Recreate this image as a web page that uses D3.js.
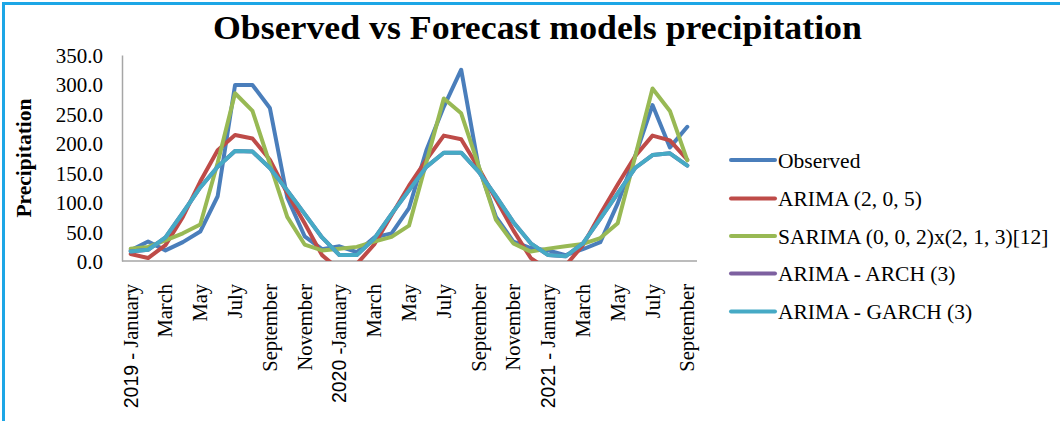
<!DOCTYPE html>
<html>
<head>
<meta charset="utf-8">
<script src="https://cdn.jsdelivr.net/npm/d3@7"></script>
<style>
  html, body { margin: 0; padding: 0; background: #ffffff; }
  svg { display: block; }
  text { font-family: "Liberation Serif", "Times New Roman", serif; fill: #000; }
</style>
</head>
<body>
<svg id="chart" width="1060" height="421"></svg>
<script>
// Monthly categories, January 2019 to September 2021
const months = [
  "2019 - January", "February", "March", "April", "May", "June", "July", "August", "September", "October", "November", "December",
  "2020 -January", "February", "March", "April", "May", "June", "July", "August", "September", "October", "November", "December",
  "2021 - January", "February", "March", "April", "May", "June", "July", "August", "September"
];

const seriesNames = [
  "Observed",
  "ARIMA (2, 0, 5)",
  "SARIMA (0, 0, 2)x(2, 1, 3)[12]",
  "ARIMA - ARCH (3)",
  "ARIMA - GARCH (3)"
];

const observed = [18, 33, 18, 32, 50, 110, 299, 299, 260, 108, 42, 20,
                  25, 15, 40, 47, 90, 188, 262, 325, 160, 75, 33, 22,
                  18, 10, 20, 32, 98, 178, 265, 193, 228];
const arima = [12, 5, 27, 75, 135, 188, 214, 208, 172, 115, 64, 10,
               -15, -5, 28, 78, 128, 172, 213, 207, 158, 105, 52, 5,
               -15, -8, 27, 80, 130, 178, 213, 205, 172];
const sarima = [21, 24, 35, 47, 62, 167, 285, 255, 165, 75, 28, 18,
                21, 24, 33, 41, 60, 168, 276, 251, 162, 70, 30, 16,
                21, 25, 29, 39, 64, 177, 293, 255, 171];
const arch = [16, 19, 40, 82, 125, 160, 187, 186, 158, 120, 80, 40,
              10, 10, 38, 80, 120, 160, 184, 184, 152, 110, 66, 30,
              10, 8, 30, 72, 115, 158, 180, 183, 162];
const garch = [16, 19, 40, 82, 125, 160, 187, 186, 158, 120, 80, 40,
               10, 10, 38, 80, 120, 160, 184, 184, 152, 110, 66, 30,
               10, 8, 30, 72, 115, 158, 180, 183, 162];

const yTicks = [0, 50, 100, 150, 200, 250, 300, 350];
const colors = ["#4A7EBB", "#BE4B48", "#98B954", "#7D60A0", "#46AAC5"];

const series = [observed, arima, sarima, arch, garch];

const svg = d3.select("#chart");

// frame edges
svg.append("line").attr("x1", 3.5).attr("x2", 3.5).attr("y1", 2).attr("y2", 421)
  .attr("stroke", "#1DA6E6").attr("stroke-width", 3);
svg.append("line").attr("x1", 2).attr("x2", 1060).attr("y1", 3.5).attr("y2", 3.5)
  .attr("stroke", "#1DA6E6").attr("stroke-width", 3);

const plot = { left: 122, right: 696, top: 55, bottom: 261 };

const x = d3.scalePoint().domain(d3.range(months.length))
  .range([plot.left, plot.right]).padding(0.5);
const y = d3.scaleLinear().domain([0, 350]).range([plot.bottom, plot.top]);

// title, compressed horizontally to its set width
const title = svg.append("text")
  .attr("font-size", 34).attr("font-weight", "bold")
  .text("Observed vs Forecast models precipitation");
const tLen = title.node().getComputedTextLength();
const tW = 649;
title.attr("transform", `translate(${537.5 - tW / 2},39) scale(${tW / tLen},1)`);

// y axis
const yAxis = d3.axisLeft(y).tickValues(yTicks).tickFormat(d3.format(".1f")).tickSize(0).tickPadding(19);
const gy = svg.append("g").attr("transform", `translate(${plot.left},0)`).call(yAxis);
gy.select(".domain").attr("stroke", "#A6A6A6").attr("stroke-width", 1.5);
gy.selectAll("text").attr("font-family", "Liberation Serif, serif").attr("font-size", 21)
  .attr("fill", "#000").attr("dy", "0.36em");

// y axis title
svg.append("text")
  .attr("transform", "translate(31,158) rotate(-90)")
  .attr("text-anchor", "middle")
  .attr("font-size", 21.5).attr("font-weight", "bold")
  .text("Precipitation");

// x axis
const xAxis = d3.axisBottom(x).tickSize(0).tickFormat("");
const gx = svg.append("g").attr("transform", `translate(0,${plot.bottom})`).call(xAxis);
gx.select(".domain").attr("d", `M${plot.left},0H${plot.right + 1}`)
  .attr("stroke", "#A6A6A6").attr("stroke-width", 1.5);

// month labels, every second month, rotated
const labelG = svg.append("g");
months.forEach((m, i) => {
  if (i % 2 !== 0) return;
  const t = labelG.append("text")
    .attr("transform", `translate(${x(i) + 7},284) rotate(-90)`)
    .attr("text-anchor", "end")
    .attr("font-size", 20.5);
  const match = m.match(/^(\d{4})(.*)$/);
  if (match) {
    t.append("tspan").attr("font-family", "Liberation Sans, Arial, sans-serif")
      .attr("font-size", 19.5).text(match[1]);
    t.append("tspan").text(match[2]);
  } else {
    t.text(m);
  }
});

// clip lines to the plotting area
svg.append("clipPath").attr("id", "plot-clip")
  .append("rect").attr("x", plot.left).attr("y", plot.top - 10)
  .attr("width", plot.right - plot.left + 10).attr("height", plot.bottom - plot.top + 10);

const line = d3.line().x((d, i) => x(i)).y(d => y(d));
const linesG = svg.append("g").attr("clip-path", "url(#plot-clip)");
series.forEach((s, k) => {
  linesG.append("path").datum(s)
    .attr("d", line)
    .attr("fill", "none")
    .attr("stroke", colors[k])
    .attr("stroke-width", 4)
    .attr("stroke-linejoin", "round")
    .attr("stroke-linecap", "round");
});

// legend
const legend = svg.append("g");
const legendY = [160, 198.5, 236, 273.5, 311.5];
seriesNames.forEach((name, k) => {
  const g = legend.append("g").attr("transform", `translate(0,${legendY[k]})`);
  g.append("line").attr("x1", 731).attr("x2", 775).attr("y1", 0).attr("y2", 0)
    .attr("stroke", colors[k]).attr("stroke-width", 4).attr("stroke-linecap", "round");
  g.append("text").attr("x", 778).attr("y", 0).attr("dy", "0.35em")
    .attr("font-size", 21.5).text(name);
});
</script>
</body>
</html>
